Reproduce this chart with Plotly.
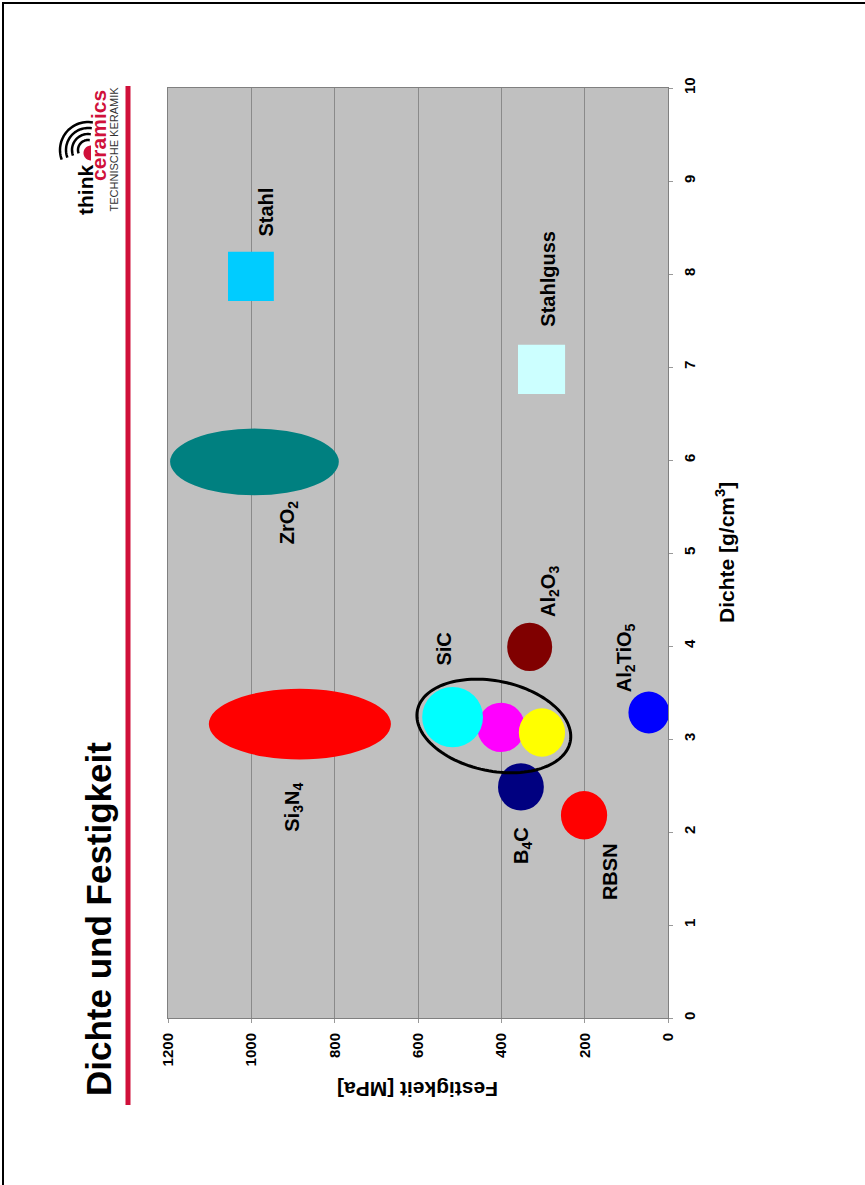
import numpy as np
import plotly.graph_objects as go

# ---------------- data ----------------
materials = ["ZrO2", "Si3N4", "Stahl", "Stahlguss", "SiC (b)", "SiC (a)", "SiC (c)",
             "B4C", "RBSN", "Al2O3", "Al2TiO5"]
kinds = ["ellipse", "ellipse", "square", "square", "ellipse", "ellipse", "ellipse",
         "ellipse", "ellipse", "ellipse", "ellipse"]
fest_min = [790, 665, 946, 247, 343, 444, 247, 298, 146, 278, -3]
fest_max = [1195, 1102, 1056, 360, 458, 590, 358, 408, 257, 386, 95]
dichte_min = [5.62, 2.78, 7.71, 6.71, 2.86, 2.91, 2.81, 2.23, 1.92, 3.73, 3.06]
dichte_max = [6.34, 3.54, 8.24, 7.24, 3.39, 3.56, 3.33, 2.74, 2.44, 4.25, 3.51]
colors = ["#008080", "#FF0000", "#00CCFF", "#CCFFFF", "#FF00FF", "#00FFFF", "#FFFF00",
          "#000080", "#FF0000", "#800000", "#0000FF"]

# SiC group outline (centre)
sic_group_fest = 418
sic_group_dichte = 3.14

label_texts = ["Stahl", "Stahlguss", "ZrO<sub>2</sub>", "Si<sub>3</sub>N<sub>4</sub>", "SiC",
               "Al<sub>2</sub>O<sub>3</sub>", "Al<sub>2</sub>TiO<sub>5</sub>",
               "B<sub>4</sub>C", "RBSN"]
label_fest = [965, 288, 912, 898, 538, 286, 103, 348, 139]
label_dichte = [8.67, 7.95, 5.33, 2.27, 3.97, 4.59, 3.87, 1.85, 1.57]

fest_ticks = [0, 200, 400, 600, 800, 1000, 1200]
dichte_ticks = list(range(0, 11))

# ---------------- layout geometry ----------------
W, H = 865, 1185
L, R, T, B = 168, 668, 88, 1018      # plot area in pixels
pw, ph = R - L, B - T
mpa_per_px = 1200 / pw
dichte_per_px = 10 / ph


def px(xp):
    return (xp - L) / pw


def py(yp):
    return (B - yp) / ph


FONT = "Arial, Liberation Sans, sans-serif"
RED = "#D0103A"

fig = go.Figure()

# invisible trace for hover / axes
cx = [(a + b) / 2 for a, b in zip(fest_min, fest_max)]
cy = [(a + b) / 2 for a, b in zip(dichte_min, dichte_max)]
fig.add_trace(go.Scatter(x=cx, y=cy, mode="markers", text=materials,
                         marker=dict(size=20, opacity=0), hoverinfo="text",
                         showlegend=False))

shapes = []
for i in range(len(materials)):
    shapes.append(dict(
        type="circle" if kinds[i] == "ellipse" else "rect",
        xref="x", yref="y",
        x0=fest_min[i], x1=fest_max[i], y0=dichte_min[i], y1=dichte_max[i],
        fillcolor=colors[i], line=dict(width=0), layer="above"))

# SiC group outline: tilted ellipse
a_px, b_px, theta = 78, 45, np.deg2rad(11.7)
t = np.linspace(0, 2 * np.pi, 121)
dx = a_px * np.cos(t) * np.cos(theta) - b_px * np.sin(t) * np.sin(theta)
dy = a_px * np.cos(t) * np.sin(theta) + b_px * np.sin(t) * np.cos(theta)
ex = sic_group_fest - dx * mpa_per_px
ey = sic_group_dichte - dy * dichte_per_px
path = "M " + " L ".join(f"{x:.3f},{y:.4f}" for x, y in zip(ex, ey)) + " Z"
shapes.append(dict(type="path", xref="x", yref="y", path=path,
                   line=dict(color="black", width=3), fillcolor="rgba(0,0,0,0)"))

# red vertical rule
shapes.append(dict(type="line", xref="paper", yref="paper",
                   x0=px(128), x1=px(128), y0=py(86), y1=py(1105),
                   line=dict(color=RED, width=5)))

# page border (top & left visible)
shapes.append(dict(type="rect", xref="paper", yref="paper",
                   x0=px(3), x1=px(900), y0=py(1230), y1=py(3),
                   line=dict(color="black", width=2), fillcolor="rgba(0,0,0,0)"))

# logo arcs
lc_x, lc_y = 88, 150
for r in [10, 16, 22, 28]:
    ang = np.linspace(np.deg2rad(160), np.deg2rad(280), 30)
    xs = lc_x + r * np.cos(ang)
    ys = lc_y + r * np.sin(ang)
    p = "M " + " L ".join(f"{px(x):.4f},{py(y):.4f}" for x, y in zip(xs, ys))
    shapes.append(dict(type="path", xref="paper", yref="paper", path=p,
                       line=dict(color="black", width=2.5)))
ang = np.linspace(np.deg2rad(90), np.deg2rad(270), 30)
xs = 91 + 7.5 * np.cos(ang)
ys = 153 + 7.5 * np.sin(ang)
p = "M " + " L ".join(f"{px(x):.4f},{py(y):.4f}" for x, y in zip(xs, ys)) + " Z"
shapes.append(dict(type="path", xref="paper", yref="paper", path=p,
                   line=dict(width=0), fillcolor=RED))

annotations = []
for txt, fx, dy_ in zip(label_texts, label_fest, label_dichte):
    annotations.append(dict(x=fx, y=dy_, xref="x", yref="y", text="<b>" + txt + "</b>",
                            showarrow=False, textangle=-90,
                            font=dict(family=FONT, size=20, color="black"),
                            xanchor="center", yanchor="middle"))

# title
annotations.append(dict(x=px(98), y=py(1098), xref="paper", yref="paper",
                        text="<b>Dichte und Festigkeit</b>", showarrow=False,
                        textangle=-90, xanchor="center", yanchor="bottom",
                        font=dict(family=FONT, size=35, color="black")))
# axis titles
annotations.append(dict(x=px(725), y=0.5, xref="paper", yref="paper",
                        text="<b>Dichte [g/cm<sup>3</sup>]</b>", showarrow=False,
                        textangle=-90, xanchor="center", yanchor="middle",
                        font=dict(family=FONT, size=21, color="black")))
annotations.append(dict(x=0.5, y=py(1090), xref="paper", yref="paper",
                        text="<b>Festigkeit [MPa]</b>", showarrow=False,
                        textangle=180, xanchor="center", yanchor="middle",
                        font=dict(family=FONT, size=21, color="black")))
# logo text
annotations.append(dict(x=px(86), y=py(190), xref="paper", yref="paper",
                        text="<b>think</b>", showarrow=False, textangle=-90,
                        xanchor="center", yanchor="middle",
                        font=dict(family=FONT, size=21, color="black")))
annotations.append(dict(x=px(98), y=py(136), xref="paper", yref="paper",
                        text="<b>ceramics</b>", showarrow=False, textangle=-90,
                        xanchor="center", yanchor="middle",
                        font=dict(family=FONT, size=21, color=RED)))
annotations.append(dict(x=px(113.5), y=py(149), xref="paper", yref="paper",
                        text="TECHNISCHE KERAMIK", showarrow=False, textangle=-90,
                        xanchor="center", yanchor="middle",
                        font=dict(family=FONT, size=11, color="#333333")))

fig.update_layout(
    width=W, height=H, autosize=False,
    margin=dict(l=L, r=W - R, t=T, b=H - B, pad=0),
    paper_bgcolor="white", plot_bgcolor="#C0C0C0",
    shapes=shapes, annotations=annotations, showlegend=False,
    xaxis=dict(range=[1200, 0], tickvals=fest_ticks,
               ticktext=[f"<b>{v}</b>" for v in fest_ticks],
               tickangle=-90, showgrid=True, gridcolor="#8A8A8A", gridwidth=1,
               zeroline=False, ticks="outside", ticklen=4, tickcolor="#999999",
               ticklabelstandoff=4,
               showline=True, linecolor="#808080", linewidth=1, mirror=True,
               tickfont=dict(family=FONT, size=15, color="black"), fixedrange=True),
    yaxis=dict(range=[0, 10], tickvals=dichte_ticks,
               ticktext=[f"<b>{v}</b>" for v in dichte_ticks], side="right",
               tickangle=-90, showgrid=False, zeroline=False,
               ticks="outside", ticklen=4, tickcolor="#999999",
               ticklabelstandoff=4,
               showline=True, linecolor="#808080", linewidth=1, mirror=True,
               tickfont=dict(family=FONT, size=15, color="black"), fixedrange=True),
)

fig.write_html("out.html")
